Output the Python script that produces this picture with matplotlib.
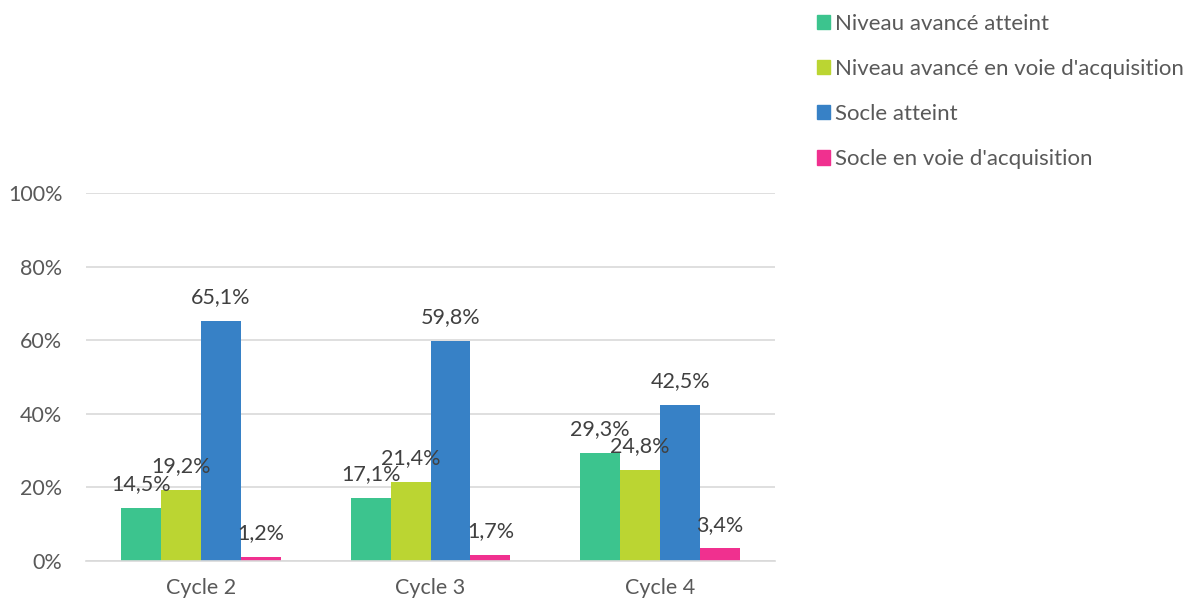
import numpy as np
import matplotlib.pyplot as plt
from matplotlib.patches import Patch

categories = ["Cycle 2", "Cycle 3", "Cycle 4"]
series_names = ["Niveau avancé atteint", "Niveau avancé en voie d'acquisition",
                "Socle atteint", "Socle en voie d'acquisition"]
niveau_atteint = [14.5, 17.1, 29.3]
niveau_voie = [19.2, 21.4, 24.8]
socle_atteint = [65.1, 59.8, 42.5]
socle_voie = [1.2, 1.7, 3.4]
colors = ["#3CC48E", "#BBD532", "#3781C6", "#F0308F"]

plt.rcParams['font.family'] = ['Lato', 'DejaVu Sans']

fig = plt.figure(figsize=(11.86, 6.03), dpi=100)
ax = fig.add_axes([86 / 1186, 42 / 603, 689 / 1186, 368 / 603])

x = np.arange(len(categories))
w = 0.174
all_series = [niveau_atteint, niveau_voie, socle_atteint, socle_voie]
for i, vals in enumerate(all_series):
    pos = x + (i - 1.5) * w
    bars = ax.bar(pos, vals, width=w, color=colors[i], linewidth=0)
    for b, v in zip(bars, vals):
        ax.annotate(f"{v:.1f}%".replace(".", ","),
                    (b.get_x() + b.get_width() / 2, v),
                    xytext=(0, 10), textcoords="offset points",
                    ha="center", va="bottom", fontsize=15.5, color="#404040")

ax.set_xlim(-0.5, 2.5)
ax.set_ylim(0, 100)
ax.set_yticks([0, 20, 40, 60, 80, 100])
ax.set_yticklabels([f"{t}%" for t in [0, 20, 40, 60, 80, 100]])
ax.set_xticks(x)
ax.set_xticklabels(categories)
ax.tick_params(axis="both", length=0, labelsize=15.5, labelcolor="#595959")
ax.tick_params(axis="y", pad=17)
ax.tick_params(axis="x", pad=12)
ax.grid(axis="y", color="#D9D9D9", linewidth=1.2)
ax.set_axisbelow(True)
for s in ["top", "right", "left"]:
    ax.spines[s].set_visible(False)
ax.spines["bottom"].set_color("#D9D9D9")
ax.spines["bottom"].set_linewidth(1.2)

handles = [Patch(color=c) for c in colors]
fig.legend(handles, series_names, loc="upper left",
           bbox_to_anchor=(797 / 1186, 1.01), frameon=False, fontsize=16,
           labelcolor="#595959", handlelength=0.6, handleheight=0.6,
           handletextpad=0.2, labelspacing=1.13)

fig.savefig("out.png", dpi=100)
